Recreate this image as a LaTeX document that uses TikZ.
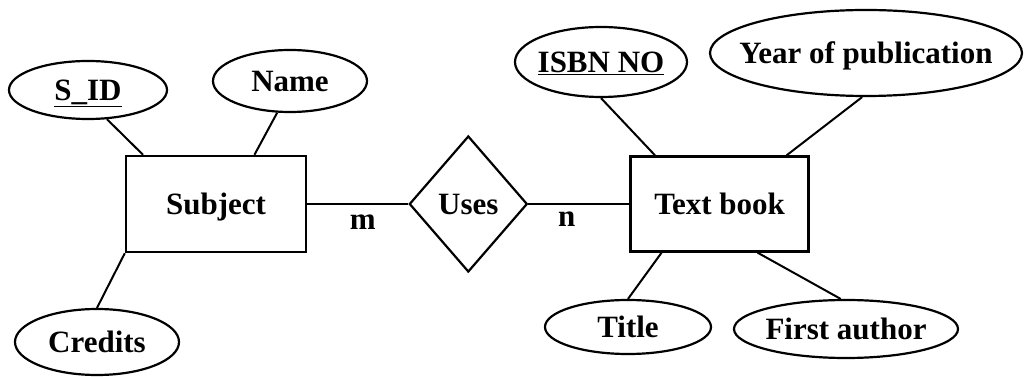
\documentclass[tikz,border=0pt]{standalone}
\usepackage{fontspec}
\setmainfont{Liberation Serif}
\usetikzlibrary{shapes.geometric,positioning}
\newcommand{\erfont}{\fontsize{31pt}{37pt}\selectfont\bfseries}
\tikzset{entity/.style={rectangle,draw=black,line width=2.4pt,minimum width=180pt,minimum height=96pt,font=\erfont,text height=20.5pt,text depth=0pt}}
\tikzset{attr/.style={ellipse,draw=black,line width=2.2pt,inner ysep=0pt,inner xsep=-25pt,font=\erfont,text height=20.5pt,text depth=0pt}}
\tikzset{rel/.style={diamond,draw=black,line width=2.2pt,inner sep=0pt,minimum width=118pt,minimum height=136pt,font=\erfont,text height=20.5pt,text depth=0pt}}
\tikzset{link/.style={line width=2pt}}
\tikzset{card/.style={inner sep=0pt,font=\erfont}}

\begin{document}
\begin{tikzpicture}[x=1pt,y=1pt]
\useasboundingbox (0,0) rectangle (1027,377);
\begin{scope}[node distance=101pt]
	\node (subj) [entity] at (216,173) {Subject} ;
	\node (uses) [rel, right =of subj] {Uses} ;
	\node (book) [entity, right =of uses, minimum width=178pt, minimum height=95pt] {Text book} ;
\end{scope}
	% attributes of Subject
	\node (sid)  [attr, minimum width=158pt, minimum height=58pt] at (88,287) {\underline{S\_ID}} ;
	\node (name) [attr, minimum width=154pt, minimum height=62pt] at (290,296) {Name} ;
	\node (cred) [attr, minimum width=164pt, minimum height=66pt] at (97,35) {Credits} ;
	% attributes of Text book
	\node (isbn)  [attr, minimum width=172pt, minimum height=70pt] at (601,315) {\underline{ISBN NO}} ;
	\node (year)  [attr, minimum width=312pt, minimum height=86pt] at (866,324) {Year of publication} ;
	\node (title) [attr, minimum width=166pt, minimum height=54pt] at (628,50) {Title} ;
	\node (first) [attr, minimum width=224pt, minimum height=58pt] at (846,48) {First author} ;

	\draw [link] (sid.303) -- (subj.146);
	\draw [link] (name.248) -- (subj.52);
	\draw [link] (cred.north) -- (subj.south west);
	\draw [link] (isbn.south) -- (book.143);
	\draw [link] (year.265) -- (book.36);
	\draw [link] (title.north) -- (book.220);
	\draw [link] (first.100) -- (book.308);
	\draw [link] (subj) -- node (m) [card, pos=0.55, below=10pt] {m} (uses);
	\draw [link] (uses) -- node (n) [card, pos=0.38, below=7pt] {n} (book);
\end{tikzpicture}
\end{document}
